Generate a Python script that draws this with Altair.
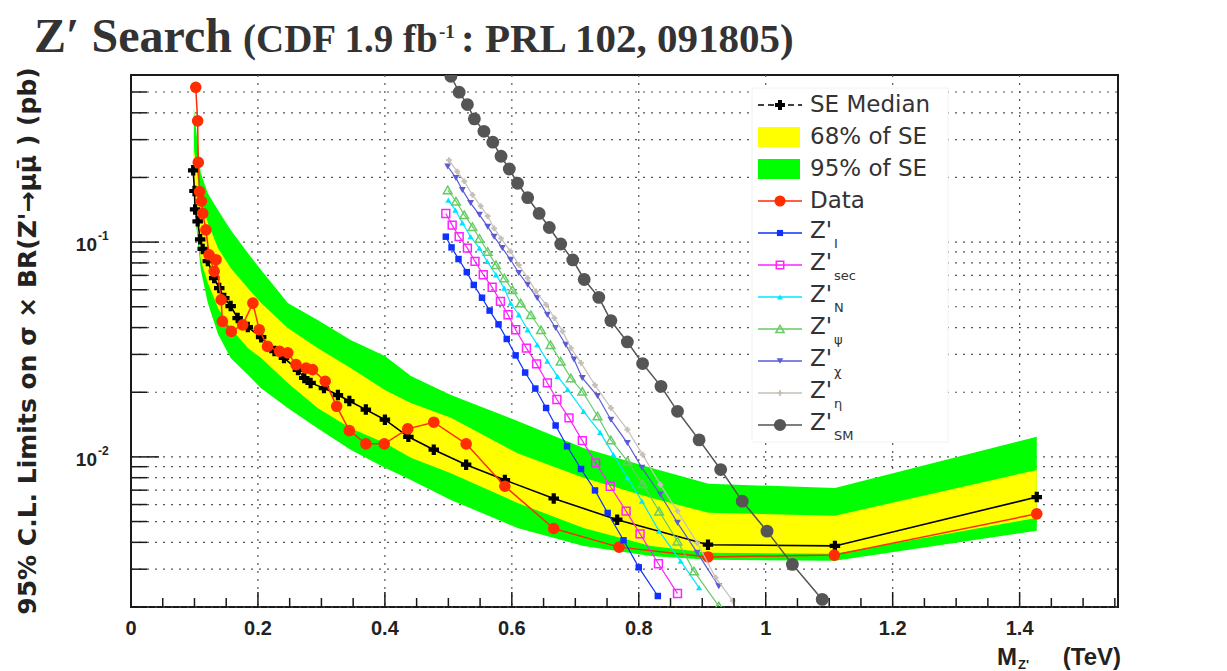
import altair as alt
import pandas as pd

# ---------------- data ----------------
se_mass = [0.098, 0.100, 0.101, 0.105, 0.109, 0.113, 0.121, 0.131, 0.139, 0.147, 0.157, 0.168,
           0.184, 0.205, 0.226, 0.241, 0.263, 0.273, 0.283, 0.304, 0.326, 0.344, 0.370, 0.400,
           0.437, 0.477, 0.528, 0.589, 0.666, 0.766, 0.909, 1.109, 1.427]
se_limit = [0.216, 0.173, 0.142, 0.125, 0.103, 0.093, 0.0816, 0.068, 0.0611, 0.0549, 0.0504, 0.0443,
            0.0402, 0.0361, 0.0311, 0.0289, 0.0254, 0.0233, 0.0221, 0.0209, 0.0194, 0.0182, 0.0166, 0.0149,
            0.0124, 0.0108, 0.0092, 0.0078, 0.0064, 0.0051, 0.0039, 0.00385, 0.0065]

data_mass = [0.102, 0.105, 0.106, 0.108, 0.111, 0.113, 0.118, 0.123, 0.131, 0.134, 0.142, 0.144,
             0.158, 0.176, 0.192, 0.202, 0.215, 0.234, 0.247, 0.260, 0.276, 0.286, 0.306, 0.324,
             0.344, 0.370, 0.399, 0.436, 0.477, 0.528, 0.589, 0.666, 0.769, 0.909, 1.108, 1.427]
data_limit = [0.526, 0.367, 0.235, 0.172, 0.155, 0.136, 0.114, 0.0873, 0.0731, 0.0828, 0.0539, 0.0428,
              0.0384, 0.0412, 0.052, 0.0391, 0.0327, 0.031, 0.0305, 0.0269, 0.0259, 0.0255, 0.0225, 0.0172,
              0.01325, 0.0115, 0.0115, 0.0135, 0.0145, 0.0115, 0.0073, 0.00464, 0.0038, 0.00342, 0.00349, 0.00543]

band_mass = [0.099, 0.110, 0.121, 0.137, 0.157, 0.184, 0.205, 0.247, 0.294, 0.346, 0.400, 0.441,
             0.504, 0.609, 0.713, 0.819, 0.910, 1.109, 1.427]
band95_hi = [0.420, 0.209, 0.169, 0.141, 0.114, 0.0889, 0.0741, 0.052, 0.0434, 0.035, 0.0295, 0.0238,
             0.0194, 0.0147, 0.0110, 0.00889, 0.00749, 0.00717, 0.0124]
band68_hi = [0.274, 0.152, 0.123, 0.0938, 0.0757, 0.0611, 0.052, 0.0398, 0.0321, 0.0259, 0.0205, 0.0178,
             0.0152, 0.0104, 0.0080, 0.00645, 0.00549, 0.00532, 0.0087]
band68_lo = [0.160, 0.0825, 0.0645, 0.0493, 0.0398, 0.0321, 0.0289, 0.0221, 0.0169, 0.0136, 0.0116, 0.0099,
             0.0084, 0.0061, 0.00467, 0.00385, 0.00358, 0.00354, 0.0052]
band95_lo = [0.152, 0.0741, 0.052, 0.0373, 0.0289, 0.0241, 0.0209, 0.0169, 0.0136, 0.0108, 0.0089, 0.0078,
             0.0063, 0.00467, 0.00385, 0.00346, 0.00332, 0.00328, 0.00453]

zI_mass = [0.496, 0.505, 0.516, 0.529, 0.540, 0.553, 0.565, 0.579, 0.592, 0.606, 0.621, 0.637, 0.654,
           0.669, 0.687, 0.709, 0.731, 0.751, 0.776, 0.800, 0.830]
zI_xs = [0.106, 0.0945, 0.0834, 0.0725, 0.0632, 0.0551, 0.048, 0.0414, 0.0354, 0.0297, 0.0247, 0.0208,
         0.0169, 0.0140, 0.0112, 0.00878, 0.00698, 0.00548, 0.00409, 0.00306, 0.00225]

zsec_mass = [0.496, 0.506, 0.517, 0.530, 0.542, 0.555, 0.569, 0.582, 0.594, 0.606, 0.623, 0.639, 0.656,
             0.671, 0.690, 0.711, 0.732, 0.755, 0.780, 0.802, 0.831, 0.861]
zsec_xs = [0.136, 0.120, 0.106, 0.0938, 0.0813, 0.0705, 0.0616, 0.053, 0.0459, 0.0391, 0.0321, 0.0271,
           0.0221, 0.0185, 0.0152, 0.0119, 0.00938, 0.0073, 0.00559, 0.00438, 0.00318, 0.00231]

zN_mass = [0.500, 0.511, 0.522, 0.535, 0.549, 0.561, 0.575, 0.588, 0.598, 0.611, 0.625, 0.640, 0.656,
           0.672, 0.688, 0.713, 0.739, 0.760, 0.782, 0.805, 0.832, 0.866, 0.895]
zN_xs = [0.157, 0.141, 0.123, 0.106, 0.0938, 0.0813, 0.0705, 0.0611, 0.052, 0.0459, 0.0391, 0.0333,
         0.0279, 0.0237, 0.0206, 0.0163, 0.0130, 0.01025, 0.0080, 0.00622, 0.00451, 0.00327, 0.00246]

zpsi_mass = [0.499, 0.512, 0.525, 0.538, 0.549, 0.562, 0.575, 0.588, 0.601, 0.614, 0.630, 0.646, 0.661,
             0.677, 0.693, 0.711, 0.735, 0.756, 0.782, 0.806, 0.832, 0.861, 0.887, 0.926]
zpsi_xs = [0.175, 0.155, 0.134, 0.118, 0.104, 0.0905, 0.0784, 0.068, 0.060, 0.052, 0.0459, 0.0391,
           0.0333, 0.0279, 0.0233, 0.0202, 0.0155, 0.0120, 0.00955, 0.00749, 0.00559, 0.00405, 0.00294, 0.00202]

zchi_mass = [0.499, 0.512, 0.522, 0.535, 0.549, 0.562, 0.572, 0.585, 0.598, 0.611, 0.625, 0.640, 0.656,
             0.669, 0.685, 0.698, 0.711, 0.735, 0.756, 0.782, 0.805, 0.834, 0.861, 0.892, 0.926]
zchi_xs = [0.225, 0.199, 0.175, 0.152, 0.134, 0.118, 0.106, 0.0938, 0.0828, 0.0718, 0.0633, 0.0549,
           0.0459, 0.0398, 0.0333, 0.0284, 0.0233, 0.0192, 0.0149, 0.0116, 0.00889, 0.00668, 0.00493,
           0.00358, 0.0025]

zeta_mass = [0.501, 0.514, 0.525, 0.538, 0.551, 0.562, 0.572, 0.583, 0.598, 0.611, 0.625, 0.638, 0.654,
             0.667, 0.680, 0.693, 0.709, 0.731, 0.756, 0.782, 0.806, 0.834, 0.861, 0.892, 0.921, 0.948]
zeta_xs = [0.241, 0.213, 0.192, 0.166, 0.147, 0.132, 0.116, 0.104, 0.0905, 0.0784, 0.068, 0.059,
           0.0511, 0.0443, 0.0384, 0.0321, 0.0274, 0.0216, 0.0169, 0.0134, 0.01025, 0.00743, 0.00559,
           0.00398, 0.00274, 0.00214]

zSM_mass = [0.504, 0.517, 0.530, 0.541, 0.556, 0.570, 0.583, 0.596, 0.609, 0.625, 0.643, 0.659, 0.677,
            0.696, 0.714, 0.737, 0.756, 0.782, 0.806, 0.835, 0.861, 0.895, 0.929, 0.963, 1.002, 1.042, 1.089]
zSM_xs = [0.592, 0.499, 0.437, 0.375, 0.328, 0.292, 0.251, 0.219, 0.188, 0.161, 0.136, 0.117, 0.098,
          0.0826, 0.067, 0.0553, 0.0431, 0.0343, 0.0272, 0.0213, 0.0163, 0.0120, 0.00873, 0.00622,
          0.00451, 0.00316, 0.00217]

# axis ticks / grid positions and labels
x_major = [0.0, 0.2, 0.4, 0.6, 0.8, 1.0, 1.2, 1.4]
x_major_labels = ["0", "0.2", "0.4", "0.6", "0.8", "1", "1.2", "1.4"]
x_minor = [0.05, 0.1, 0.15, 0.25, 0.3, 0.35, 0.45, 0.5, 0.55, 0.65, 0.7, 0.75, 0.85, 0.9, 0.95,
           1.05, 1.1, 1.15, 1.25, 1.3, 1.35, 1.45, 1.5, 1.55]
y_major = [0.01, 0.1]
y_minor = [0.002, 0.003, 0.004, 0.005, 0.006, 0.007, 0.008, 0.009,
           0.02, 0.03, 0.04, 0.05, 0.06, 0.07, 0.08, 0.09, 0.2, 0.3, 0.4, 0.5]
y_labels = ["10", "10"]
y_label_exp = ["-2", "-1"]

# ---------------- layout ----------------
W, H = 987, 532
X_DOM = [0, 1.555]
Y_DOM = [0.002, 0.6]
SANS = "Liberation Sans"
WIDE = "DejaVu Sans"
SERIF = "Liberation Serif"
INK = "#222222"


def xenc(field="m"):
    return alt.X(f"{field}:Q", scale=alt.Scale(domain=X_DOM, nice=False, zero=False), axis=None)


def yenc(field="v"):
    return alt.Y(f"{field}:Q", scale=alt.Scale(type="log", domain=Y_DOM, nice=False), axis=None)


one = pd.DataFrame({"k": [0]})
layers = []

# grid (dotted)
grid_style = dict(color="#555555", strokeDash=[2, 6], strokeWidth=1.2)
layers.append(alt.Chart(pd.DataFrame({"v": y_major + y_minor})).mark_rule(**grid_style).encode(
    y=yenc(), x=alt.value(0), x2=alt.value(W)))
layers.append(alt.Chart(pd.DataFrame({"m": x_major[1:]})).mark_rule(**grid_style).encode(
    x=xenc(), y=alt.value(0), y2=alt.value(H)))

# bands
band_df = pd.DataFrame({"m": band_mass, "g_lo": band95_lo, "g_hi": band95_hi,
                        "y_lo": band68_lo, "y_hi": band68_hi})
layers.append(alt.Chart(band_df).mark_area(color="#00ff00", opacity=1, interpolate="linear").encode(
    x=xenc(), y=yenc("g_lo"), y2=alt.Y2("g_hi:Q")))
layers.append(alt.Chart(band_df).mark_area(color="#ffff00", opacity=1, interpolate="linear").encode(
    x=xenc(), y=yenc("y_lo"), y2=alt.Y2("y_hi:Q")))


def series(mass, vals, color, shape, filled, size, lw=1.4, sw=1.5):
    df = pd.DataFrame({"m": mass, "v": vals})
    line = alt.Chart(df).mark_line(color=color, strokeWidth=lw, clip=True).encode(x=xenc(), y=yenc())
    pts = alt.Chart(df).mark_point(shape=shape, filled=filled, size=size, color=color, opacity=1,
                                   strokeWidth=sw, clip=True).encode(x=xenc(), y=yenc())
    return [line, pts]


styles = [
    # (label, sub, color, shape, filled, size, kind)
    ("SE Median", "", "#000000", "cross", True, 110, "lp"),
    ("68% of SE", "", "#ffff00", None, None, None, "box"),
    ("95% of SE", "", "#00ff00", None, None, None, "box"),
    ("Data", "", "#ff2d00", "circle", True, 135, "lp"),
    ("Z'", "I", "#1030ff", "square", True, 42, "lp"),
    ("Z'", "sec", "#ff22ff", "square", False, 62, "lp"),
    ("Z'", "N", "#00e5ff", "triangle-up", True, 38, "lp"),
    ("Z'", "ψ", "#66cc66", "triangle-up", False, 75, "lp"),
    ("Z'", "χ", "#5b5bd6", "triangle-down", True, 48, "lp"),
    ("Z'", "η", "#c8c0b8", "cross", True, 32, "lp"),
    ("Z'", "SM", "#555555", "circle", True, 165, "lp"),
]

layers += series(se_mass, se_limit, "#000000", "cross", True, 110, lw=1.6)
layers += series(data_mass, data_limit, "#ff2d00", "circle", True, 135, lw=1.5)
model_data = [(zI_mass, zI_xs), (zsec_mass, zsec_xs), (zN_mass, zN_xs), (zpsi_mass, zpsi_xs),
              (zchi_mass, zchi_xs), (zeta_mass, zeta_xs), (zSM_mass, zSM_xs)]
for (mass, vals), st in zip(model_data, styles[4:]):
    layers += series(mass, vals, st[2], st[3], st[4], st[5], lw=1.5 if st[1] == "SM" else 1.2)

# inner ticks
tick_style = dict(color="#1a1a1a", strokeWidth=1.5)
layers.append(alt.Chart(pd.DataFrame({"m": x_major})).mark_rule(**tick_style).encode(
    x=xenc(), y=alt.value(H), y2=alt.value(H - 15)))
layers.append(alt.Chart(pd.DataFrame({"m": x_minor})).mark_rule(**tick_style).encode(
    x=xenc(), y=alt.value(H), y2=alt.value(H - 9)))
layers.append(alt.Chart(pd.DataFrame({"v": y_major})).mark_rule(**tick_style).encode(
    y=yenc(), x=alt.value(0), x2=alt.value(28)))
layers.append(alt.Chart(pd.DataFrame({"v": y_minor})).mark_rule(**tick_style).encode(
    y=yenc(), x=alt.value(0), x2=alt.value(16)))

# x tick labels
xlab_df = pd.DataFrame({"m": x_major, "lab": x_major_labels})
layers.append(alt.Chart(xlab_df).mark_text(align="center", baseline="middle", font=SANS, fontWeight="bold",
                                           fontSize=20, color=INK).encode(
    x=xenc(), y=alt.value(H + 22), text="lab:N"))

# y labels 10^-1, 10^-2
ylab_df = pd.DataFrame({"v": y_major, "base": y_labels, "exp": y_label_exp})
layers.append(alt.Chart(ylab_df).mark_text(align="right", baseline="middle", font=SANS, fontWeight="bold",
                                           fontSize=19, color=INK, dy=3).encode(
    y=yenc(), x=alt.value(-34), text="base:N"))
layers.append(alt.Chart(ylab_df).mark_text(align="left", baseline="middle", font=SANS, fontWeight="bold",
                                           fontSize=12, color=INK, dy=-6).encode(
    y=yenc(), x=alt.value(-33), text="exp:N"))

# y-axis title
layers.append(alt.Chart(one).mark_text(text="95% C.L. Limits on σ × BR(Z'→μμ̄ ) (pb)", angle=270,
                                       align="center", baseline="middle", font=WIDE, fontWeight="bold",
                                       fontSize=25, color=INK).encode(
    x=alt.value(-103), y=alt.value(H / 2)))

# x-axis title  M_Z' (TeV)
XT_BASE = 590
layers.append(alt.Chart(one).mark_text(text="(TeV)", align="right", baseline="alphabetic", font=SANS,
                                       fontWeight="bold", fontSize=24, color=INK).encode(
    x=alt.value(990), y=alt.value(XT_BASE)))
layers.append(alt.Chart(one).mark_text(text="M", align="left", baseline="alphabetic", font=SANS,
                                       fontWeight="bold", fontSize=24, color=INK).encode(
    x=alt.value(866), y=alt.value(XT_BASE)))
layers.append(alt.Chart(one).mark_text(text="Z'", align="left", baseline="alphabetic", font=SANS,
                                       fontWeight="bold", fontSize=13, color=INK).encode(
    x=alt.value(887), y=alt.value(XT_BASE + 4)))

# title
title_parts = [("Z′ Search", -97, -23, 48), ("(CDF 1.9 fb", 112, -23, 39), ("-1", 308, -37, 19),
               (": PRL 102, 091805)", 330, -23, 41)]
for txt, tx, ty, fs in title_parts:
    layers.append(alt.Chart(one).mark_text(text=txt, align="left", baseline="alphabetic", font=SERIF,
                                           fontWeight="bold", fontSize=fs, color="#333333").encode(
        x=alt.value(tx), y=alt.value(ty)))

# legend
LX0, LX1 = 621, 817
LY0, LY1 = 13, 367
layers.append(alt.Chart(one).mark_rect(color="#ffffff", stroke="#f2f2f2").encode(
    x=alt.value(LX0), x2=alt.value(LX1), y=alt.value(LY0), y2=alt.value(LY1)))
SYM0, SYM1, SYMC, TXT = 627, 671, 649, 679
for i, (lab, sub, color, shape, filled, size, kind) in enumerate(styles):
    ry = 30 + 32 * i
    if kind == "box":
        layers.append(alt.Chart(one).mark_rect(color=color).encode(
            x=alt.value(SYM0), x2=alt.value(SYM1 - 2), y=alt.value(ry - 10), y2=alt.value(ry + 10)))
    else:
        dash = [6, 4] if lab == "SE Median" else [1, 0]
        layers.append(alt.Chart(one).mark_rule(color=color, strokeWidth=1.5, strokeDash=dash).encode(
            x=alt.value(SYM0), x2=alt.value(SYM1), y=alt.value(ry)))
        layers.append(alt.Chart(one).mark_point(shape=shape, filled=filled, size=size * 0.9, color=color,
                                                opacity=1, strokeWidth=1.5).encode(
            x=alt.value(SYMC), y=alt.value(ry)))
    layers.append(alt.Chart(one).mark_text(text=lab, align="left", baseline="middle", font=WIDE,
                                           fontSize=23, color="#333333").encode(
        x=alt.value(TXT), y=alt.value(ry - (2 if sub else 0))))
    if sub:
        layers.append(alt.Chart(one).mark_text(text=sub, align="left", baseline="middle", font=WIDE,
                                               fontSize=13, color="#333333").encode(
            x=alt.value(TXT + 24), y=alt.value(ry + 11)))

chart = alt.layer(*layers).properties(
    width=W, height=H,
    padding={"left": 123, "top": 67, "right": 95, "bottom": 64},
    autosize=alt.AutoSizeParams(type="none"),
    background="#ffffff",
).configure_view(stroke="#1a1a1a", strokeWidth=2)

chart.save("out.html", embed_options={"renderer": "svg", "actions": False})
